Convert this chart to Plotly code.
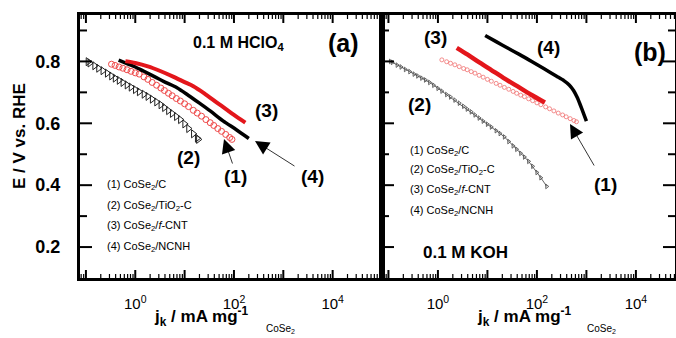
import math
import plotly.graph_objects as go

# ---------------- data ----------------
# Panel (a): 0.1 M HClO4
a1_j = [0.33, 0.39, 0.47, 0.56, 0.68, 0.82, 1.0, 1.2, 1.5, 1.8, 2.2, 2.7, 3.3, 3.9, 4.7, 5.6, 6.8, 8.2,
        10, 12, 15, 18, 22, 27, 33, 39, 47, 56, 68, 82, 91]
a1_E = [0.791, 0.787, 0.782, 0.778, 0.773, 0.768, 0.763, 0.759, 0.750, 0.742, 0.732, 0.723, 0.714, 0.706,
        0.697, 0.689, 0.680, 0.672, 0.663, 0.654, 0.642, 0.633, 0.623, 0.612, 0.602, 0.593, 0.583, 0.574,
        0.564, 0.554, 0.548]

a2_j = [0.11, 0.12, 0.15, 0.18, 0.22, 0.27, 0.33, 0.39, 0.47, 0.56, 0.68, 0.82, 1.0, 1.2, 1.5, 1.8, 2.2,
        2.7, 3.3, 3.9, 4.7, 5.6, 6.8, 8.2, 10, 12, 15, 18, 19]
a2_E = [0.799, 0.795, 0.786, 0.778, 0.770, 0.762, 0.753, 0.746, 0.739, 0.732, 0.724, 0.717, 0.709, 0.702,
        0.694, 0.687, 0.678, 0.669, 0.660, 0.651, 0.641, 0.632, 0.622, 0.612, 0.598, 0.583, 0.566, 0.552,
        0.548]

a3_j = [0.63, 1.0, 1.8, 3.2, 6, 10, 15, 25, 45, 70, 100, 170]
a3_E = [0.801, 0.795, 0.784, 0.769, 0.750, 0.733, 0.720, 0.697, 0.667, 0.645, 0.627, 0.602]

a4_j = [0.46, 0.7, 1.0, 1.5, 2.5, 4, 7, 12, 20, 33, 60, 110, 200]
a4_E = [0.804, 0.792, 0.782, 0.768, 0.750, 0.733, 0.715, 0.690, 0.665, 0.640, 0.608, 0.580, 0.551]

# Panel (b): 0.1 M KOH
b1_j = [1.2, 1.5, 1.8, 2.2, 2.7, 3.3, 3.9, 4.7, 5.6, 6.8, 8.2, 10, 12, 15, 18, 22, 27, 33, 39, 47, 56,
        68, 82, 100, 120, 150, 180, 220, 270, 330, 390, 470, 560, 630]
b1_E = [0.805, 0.799, 0.794, 0.789, 0.783, 0.777, 0.773, 0.767, 0.762, 0.755, 0.749, 0.742, 0.736, 0.729,
        0.723, 0.716, 0.710, 0.703, 0.697, 0.691, 0.686, 0.679, 0.673, 0.666, 0.660, 0.653, 0.647, 0.640,
        0.633, 0.627, 0.621, 0.615, 0.609, 0.605]

b2_j = [0.11, 0.12, 0.15, 0.18, 0.22, 0.27, 0.33, 0.39, 0.47, 0.56, 0.68, 0.82, 1.0, 1.2, 1.5, 1.8, 2.2,
        2.7, 3.3, 3.9, 4.7, 5.6, 6.8, 8.2, 10, 12, 15, 18, 22, 27, 33, 39, 47, 56, 68, 82, 100, 120, 158]
b2_E = [0.800, 0.797, 0.788, 0.782, 0.774, 0.767, 0.759, 0.753, 0.746, 0.740, 0.732, 0.723, 0.713, 0.704,
        0.693, 0.685, 0.675, 0.665, 0.655, 0.646, 0.637, 0.627, 0.617, 0.607, 0.597, 0.588, 0.576, 0.567,
        0.556, 0.541, 0.527, 0.516, 0.503, 0.491, 0.477, 0.461, 0.441, 0.424, 0.396]

b3_j = [2.4, 4, 7, 12, 21, 40, 75, 145]
b3_E = [0.844, 0.822, 0.796, 0.772, 0.747, 0.720, 0.693, 0.667]

b4_j = [9, 15, 25, 45, 80, 140, 250, 350, 450, 550, 650, 750, 870, 1000]
b4_E = [0.884, 0.864, 0.844, 0.822, 0.799, 0.776, 0.752, 0.738, 0.724, 0.706, 0.684, 0.660, 0.633, 0.607]

legend_labels = ["(1) CoSe<sub>2</sub>/C", "(2) CoSe<sub>2</sub>/TiO<sub>2</sub>-C",
                 "(3) CoSe<sub>2</sub>/<i>f</i>-CNT", "(4) CoSe<sub>2</sub>/NCNH"]
y_ticks = [0.2, 0.4, 0.6, 0.8]
y_tick_text = ["0.2", "0.4", "0.6", "0.8"]
y_minor = [0.3, 0.5, 0.7, 0.9]
x_decades = [-1, 0, 1, 2, 3, 4, 5]

# ---------------- figure ----------------
FONT = "Liberation Sans, Arial, sans-serif"
W, H = 676, 338
ML, MR, MT, MB = 80, 1, 15, 60
PW, PH = W - ML - MR, H - MT - MB
split = (382 - ML) / PW
YR = [0.1, 0.95]
XR_A = [-1.12, 5.0]
XR_B = [-1.13, 4.79]


def px(x):
    return (x - ML) / PW


def py(y):
    return (H - MB - y) / PH


fig = go.Figure()

RED = "#e3161b"
PINK = "#ef4b4b"

fig.add_trace(go.Scatter(x=a2_j, y=a2_E, mode="markers", xaxis="x", yaxis="y",
                         marker=dict(symbol="triangle-right-open", size=7, color="#222",
                                     line=dict(width=1, color="#222"))))
fig.add_trace(go.Scatter(x=a1_j, y=a1_E, mode="markers", xaxis="x", yaxis="y",
                         marker=dict(symbol="circle-open", size=6, color=PINK,
                                     line=dict(width=1, color=PINK))))
fig.add_trace(go.Scatter(x=a4_j, y=a4_E, mode="lines", xaxis="x", yaxis="y",
                         line=dict(color="black", width=3.5, shape="spline", smoothing=0.8)))
fig.add_trace(go.Scatter(x=a3_j, y=a3_E, mode="lines", xaxis="x", yaxis="y",
                         line=dict(color=RED, width=4, shape="spline", smoothing=0.8)))

fig.add_trace(go.Scatter(x=b2_j, y=b2_E, mode="lines+markers", xaxis="x2", yaxis="y2",
                         line=dict(color="#666", width=1),
                         marker=dict(symbol="triangle-right-open", size=4, color="#444",
                                     line=dict(width=0.8, color="#444"))))
fig.add_trace(go.Scatter(x=b1_j, y=b1_E, mode="markers", xaxis="x2", yaxis="y2",
                         marker=dict(symbol="circle-open", size=4, color="#f07070",
                                     line=dict(width=0.8, color="#f07070"))))
fig.add_trace(go.Scatter(x=b4_j, y=b4_E, mode="lines", xaxis="x2", yaxis="y2",
                         line=dict(color="black", width=3.5, shape="spline", smoothing=0.6)))
fig.add_trace(go.Scatter(x=b3_j, y=b3_E, mode="lines", xaxis="x2", yaxis="y2",
                         line=dict(color=RED, width=4.5, shape="spline", smoothing=0.8)))

major_x = [10 ** d for d in x_decades]
ticktext_x = [("10<sup>%d</sup>" % d) if d % 2 == 0 else "" for d in x_decades]
minor_x = [k * 10 ** d for d in range(-2, 6) for k in range(2, 10)]

# ---------- inward tick marks as layout shapes (paper coordinates from the axis scales) ----------
shapes = []


def vline(xf, y0, y1, w):
    shapes.append(dict(type="line", xref="paper", yref="paper", x0=xf, x1=xf, y0=y0, y1=y1,
                       layer="above", line=dict(color="black", width=w)))


def hline(yf, x0, x1, w):
    shapes.append(dict(type="line", xref="paper", yref="paper", x0=x0, x1=x1, y0=yf, y1=yf,
                       layer="above", line=dict(color="black", width=w)))


def yfrac(v):
    return (v - YR[0]) / (YR[1] - YR[0])


for dom, xr, y_sides in (((0, split), XR_A, ["left"]), ((split, 1), XR_B, ["left", "right"])):
    def xfrac(v, dom=dom, xr=xr):
        return dom[0] + (math.log10(v) - xr[0]) / (xr[1] - xr[0]) * (dom[1] - dom[0])

    for vals, ln, w in ((major_x, 8, 2), (minor_x, 4, 1.2)):
        for v in vals:
            lv = math.log10(v)
            if xr[0] + 0.01 < lv < xr[1] - 0.01:
                f = xfrac(v)
                vline(f, 0, ln / PH, w)
                vline(f, 1 - ln / PH, 1, w)
    for side in y_sides:
        x_edge = dom[0] if side == "left" else dom[1]
        sgn = 1 if side == "left" else -1
        for vals, ln in ((y_ticks, 12), (y_minor, 7)):
            for v in vals:
                hline(yfrac(v), x_edge, x_edge + sgn * ln / PW, 2)

xcommon = dict(type="log", showline=True, linecolor="black", linewidth=3, mirror=True,
               ticks="", tickvals=major_x, ticktext=ticktext_x, showgrid=False, zeroline=False,
               tickfont=dict(family=FONT, size=15, color="black"), ticklabelstandoff=10)
ycommon = dict(range=YR, showline=True, linecolor="black", linewidth=3, mirror=True,
               ticks="", tickvals=y_ticks, ticktext=y_tick_text, showgrid=False, zeroline=False,
               tickfont=dict(family=FONT, size=18, color="black", weight="bold"),
               ticklabelstandoff=13)

fig.update_layout(
    template="none",
    width=W, height=H, margin=dict(l=ML, r=MR, t=MT, b=MB, autoexpand=False),
    paper_bgcolor="white", plot_bgcolor="white", showlegend=False,
    font=dict(family=FONT, color="black"),
    xaxis=dict(domain=[0, split], range=XR_A, anchor="y", **xcommon),
    yaxis=dict(domain=[0, 1], anchor="x", **ycommon),
    xaxis2=dict(domain=[split, 1], range=XR_B, anchor="y2", **xcommon),
    yaxis2=dict(domain=[0, 1], anchor="x2", showticklabels=False, **ycommon),
    shapes=shapes,
)

ann = []


def text(x, y, s, size, bold=True, xanchor="center"):
    ann.append(dict(x=px(x), y=py(y), xref="paper", yref="paper", text=s, showarrow=False,
                    xanchor=xanchor, yanchor="middle",
                    font=dict(family=FONT, size=size, color="black",
                              weight="bold" if bold else "normal")))


def arrow(tx, ty, sx, sy):
    ann.append(dict(x=px(tx), y=py(ty), xref="paper", yref="paper", text="", showarrow=True,
                    ax=sx - tx, ay=sy - ty, arrowhead=2, arrowsize=3.5, arrowwidth=0.8,
                    arrowcolor="black", standoff=0))


# panel (a)
text(238, 43, "0.1 M HClO<sub>4</sub>", 16)
text(343, 43, "(a)", 25)
text(266, 110, "(3)", 19)
text(188, 157, "(2)", 19)
text(235, 176, "(1)", 19)
text(312, 177, "(4)", 19)
arrow(224, 139, 233, 165)
arrow(255, 141, 296, 167)
for i, lab in enumerate(legend_labels):
    text(105, [185, 206, 226, 247][i], lab, 11, bold=False, xanchor="left")

# panel (b)
text(650, 52, "(b)", 25)
text(435, 37, "(3)", 19)
text(548, 47, "(4)", 19)
text(419, 104, "(2)", 19)
text(605, 184, "(1)", 19)
arrow(570, 124, 595, 167)
text(465, 252, "0.1 M KOH", 17)
for i, lab in enumerate(legend_labels):
    text(408, [151, 170, 190, 211][i], lab, 11, bold=False, xanchor="left")

# axis titles
text(201, 316, "j<sub>k</sub> / mA mg<sup>-1</sup>", 17)
text(280, 329, "CoSe<sub>2</sub>", 10, bold=False)
text(524, 316, "j<sub>k</sub> / mA mg<sup>-1</sup>", 17)
text(601, 329, "CoSe<sub>2</sub>", 10, bold=False)
ann.append(dict(x=px(19), y=py(136), xref="paper", yref="paper", text="E / V vs. RHE",
                showarrow=False, textangle=-90, xanchor="center", yanchor="middle",
                font=dict(family=FONT, size=17, color="black", weight="bold")))

fig.update_layout(annotations=ann)
fig.write_html("out.html",
               post_script="document.body.style.margin='0';document.body.style.padding='0';",
               config={"displayModeBar": False})
